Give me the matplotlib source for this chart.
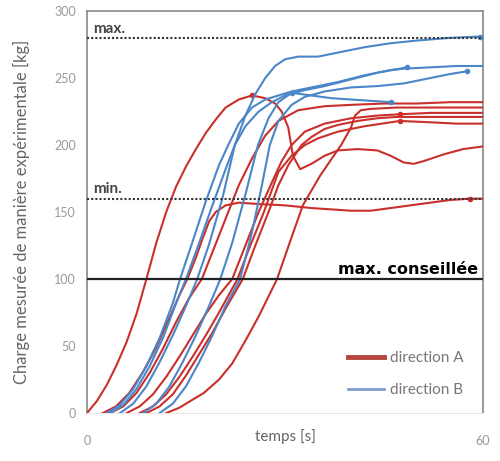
import matplotlib
matplotlib.use('Agg')
import matplotlib.pyplot as plt
from matplotlib.lines import Line2D

plt.rcParams['font.family'] = ['Lato', 'DejaVu Sans']

# direction A (red) curves: time [s] and load [kg]
r1_t = [0, 1.5, 3, 4.5, 6, 7.5, 9, 10.5, 12, 13.5, 15, 16.5, 18, 19.5, 21, 23, 25, 27, 28.5, 29.5, 30.5,
        31.2, 32.3, 34, 36, 38, 41, 44, 46, 48, 49.5, 51, 54, 57, 60]
r1_l = [0, 9, 21, 36, 53, 74, 100, 127, 150, 169, 184, 197, 209, 219, 228, 234, 237, 235, 231, 225, 213,
        192, 182, 186, 192, 196, 197, 196, 192, 187, 186, 188, 193, 197, 199]

r2_t = [2.4, 4.4, 6.4, 8.4, 10.4, 12.4, 14, 15.2, 16.5, 17.5, 18.5, 19.5, 21, 23, 26, 30, 34, 37, 40, 43,
        46, 49, 52, 55, 58, 60]
r2_l = [0, 5, 15, 30, 48, 70, 88, 100, 116, 130, 143, 150, 155, 157, 156, 155, 153, 152, 151, 151,
        153, 155, 157, 159, 160, 160]

r3_t = [3.5, 5.5, 7.5, 9.5, 11.5, 13.5, 15.5, 17.4, 19, 21, 23, 25, 27, 29, 32, 36, 40, 45, 50, 55, 60]
r3_l = [0, 5, 15, 30, 48, 68, 86, 100, 120, 145, 170, 190, 207, 218, 226, 229, 230, 231, 231, 232, 232]

r4_t = [6, 8, 10, 12, 14, 16, 18, 20, 22, 24, 26, 28, 29.5, 31, 33, 36, 40, 44, 47.4, 52, 56, 60]
r4_l = [0, 5, 14, 27, 42, 58, 74, 88, 100, 125, 150, 172, 188, 200, 210, 216, 220, 222, 223, 224, 224, 224]

r5_t = [8, 10, 12, 14, 16, 18, 20, 22.8, 24.5, 26.8, 29, 31, 33, 35, 38, 42, 47.4, 52, 56, 60]
r5_l = [0, 5, 14, 27, 42, 58, 75, 100, 122, 150, 180, 192, 200, 205, 210, 214, 218, 217, 216, 216]

r6_t = [9, 11, 13, 15, 17, 19, 21, 23.6, 25.5, 27.5, 29, 30.5, 32.5, 34, 36, 38, 41, 44, 47, 52, 56, 60]
r6_l = [0, 5, 14, 28, 44, 60, 78, 100, 125, 150, 170, 185, 200, 206, 212, 215, 218, 220, 221, 221, 221, 221]

r7_t = [12, 14, 16, 17.7, 20, 22, 24, 26, 27.5, 28.8, 30.7, 32.7, 35.3, 37.1, 38.5, 40, 40.6, 41.5, 43,
        47, 52, 56, 60]
r7_l = [0, 4, 10, 15, 25, 37, 54, 72, 87, 100, 127, 155, 177, 190, 200, 213, 222, 226, 227, 228, 228,
        228, 228]

# direction B (blue) curves
b1_t = [5, 7, 9, 11, 13, 15, 16.7, 18.5, 20.5, 22.4, 24, 25.5, 27, 28.5, 30, 32, 35, 38, 42, 46, 50, 55, 59.5]
b1_l = [0, 7, 20, 38, 58, 80, 100, 126, 160, 200, 222, 238, 250, 259, 264, 266, 266, 269, 273, 276,
        278, 280, 281]

b2_t = [3, 5, 7, 9, 11, 13, 14.1, 16, 18, 20, 21.4, 23, 25, 27, 29, 31, 34, 38, 42, 46, 48, 52, 56, 60]
b2_l = [0, 6, 18, 35, 56, 82, 100, 128, 158, 185, 200, 216, 228, 234, 237, 240, 243, 247, 252, 256,
        257, 258, 259, 259]

b3_t = [3.5, 5.5, 7.5, 9.5, 11.5, 13.5, 15, 17, 19, 21, 22.4, 24, 26, 28, 30, 33, 36, 40, 44, 48.5]
b3_l = [0, 6, 18, 35, 56, 82, 100, 127, 155, 182, 200, 214, 225, 232, 237, 241, 244, 249, 254, 258]

b4_t = [8.5, 10.5, 12.5, 14.5, 16.5, 18.5, 20.2, 22, 24, 25.9, 27.5, 29, 31, 34, 37, 40, 43, 46]
b4_l = [0, 7, 20, 38, 58, 80, 100, 127, 163, 200, 220, 232, 239, 237, 235, 234, 233, 232]

b5_t = [11, 13, 15, 17, 19, 21, 23.2, 25, 26.5, 27.7, 29, 31, 33, 36, 40, 44, 48, 52, 55, 57.5]
b5_l = [0, 7, 20, 38, 58, 80, 100, 135, 170, 200, 218, 230, 236, 240, 243, 244, 246, 250, 253, 255]

# indices of the points carrying a small dot
red_curves = [(r1_t, r1_l, [16]), (r2_t, r2_l, [24]), (r3_t, r3_l, []), (r4_t, r4_l, [18]),
              (r5_t, r5_l, [16]), (r6_t, r6_l, []), (r7_t, r7_l, [])]
blue_curves = [(b1_t, b1_l, [22]), (b2_t, b2_l, []), (b3_t, b3_l, [19]), (b4_t, b4_l, [12, 17]),
               (b5_t, b5_l, [19])]

red = '#c9302c'
blue = '#4a86c8'

fig = plt.figure(figsize=(5, 4.61), dpi=100)
ax = fig.add_axes([0.174, 0.104, 0.792, 0.872])

for curves, col in [(red_curves, red), (blue_curves, blue)]:
    for t, l, m in curves:
        if m:
            ax.plot(t, l, color=col, lw=1.5, marker='o', ms=3, markevery=m, zorder=3)
        else:
            ax.plot(t, l, color=col, lw=1.5, zorder=3)

# reference levels
ax.axhline(280, color='#333333', lw=1.5, ls=(0, (1, 1)), zorder=4)
ax.axhline(160, color='#333333', lw=1.5, ls=(0, (1, 1)), zorder=4)
ax.axhline(100, color='#222222', lw=1.6, zorder=4)
ax.text(1, 284, 'max.', fontsize=11, fontweight='bold', color='#444444')
ax.text(1, 164, 'min.', fontsize=11, fontweight='bold', color='#444444')
ax.text(59.3, 104, 'max. conseillée', fontsize=11.5, fontweight='bold', color='black', ha='right',
        family='DejaVu Sans')

ax.set_xlim(0, 60)
ax.set_ylim(0, 300)
ax.set_xticks([0, 60])
ax.set_yticks(range(0, 301, 50))
ax.tick_params(length=0, colors='#999999', labelsize=9)
ax.tick_params(axis='x', pad=16)
ax.tick_params(axis='y', pad=8)

for s in ['left', 'right', 'top']:
    ax.spines[s].set_color('#888888')
    ax.spines[s].set_linewidth(1.2)
ax.spines['bottom'].set_color('#e6e6e6')

ax.set_xlabel('temps [s]', fontsize=11, color='#666666')
ax.xaxis.set_label_coords(0.5, -0.04)
ax.set_ylabel('Charge mesurée de manière expérimentale [kg]', fontsize=12, color='#666666')
ax.yaxis.set_label_coords(-0.145, 0.5)

handles = [Line2D([], [], color='#b5473c', lw=3.5), Line2D([], [], color='#7a9ed0', lw=2)]
ax.legend(handles, ['direction A', 'direction B'], loc='lower right', frameon=False,
          fontsize=11, labelcolor='#777777', handlelength=2.3, handletextpad=0.4,
          labelspacing=1.2, bbox_to_anchor=(0.985, 0.005))

fig.savefig('out.png', dpi=100)
